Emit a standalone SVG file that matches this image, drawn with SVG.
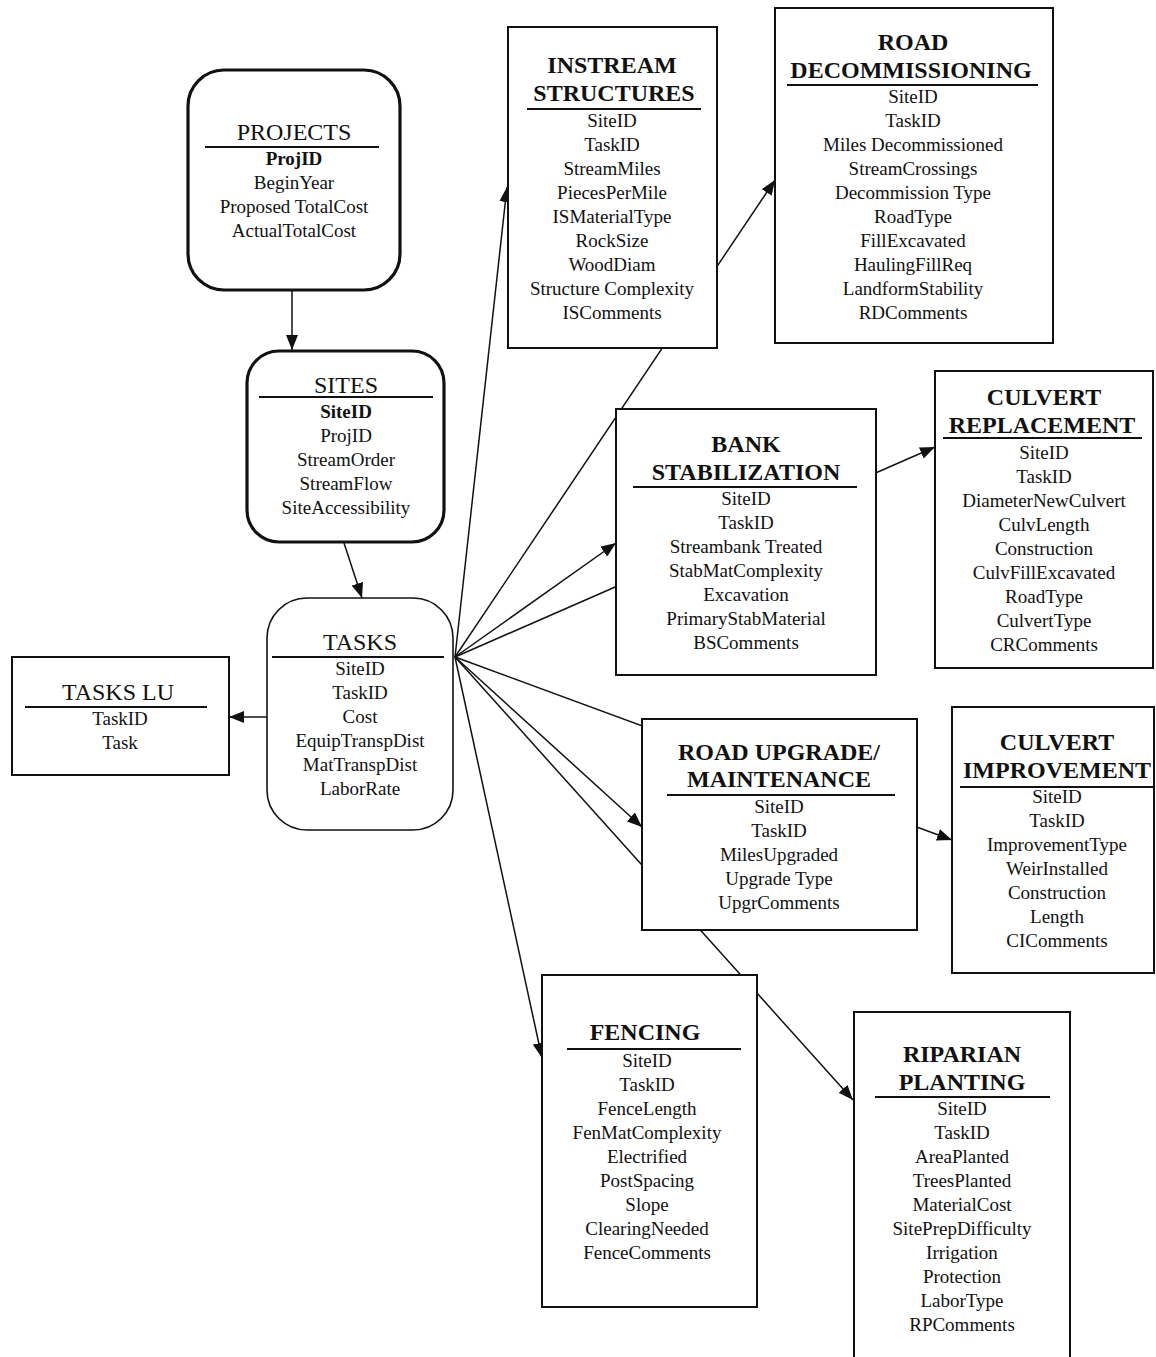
<svg xmlns="http://www.w3.org/2000/svg" width="1156" height="1357" viewBox="0 0 1156 1357">
<style>
.bx{fill:#fff;stroke:#111;stroke-width:2}
.thick{stroke-width:3.2}
.thin{stroke-width:1.6}
.ul{stroke:#111;stroke-width:2}
text{font-family:"Liberation Serif","Times New Roman",serif;fill:#111;text-anchor:middle}
.hn{font-size:24px}
.hb{font-size:24px;font-weight:bold}
.f{font-size:19px}
.fb{font-size:19px;font-weight:bold}
.c{stroke:#111;stroke-width:1.5;fill:none}
.ca{stroke:#111;stroke-width:1.5;fill:none;marker-end:url(#ah)}
</style>
<defs>
<marker id="ah" markerUnits="userSpaceOnUse" markerWidth="16" markerHeight="12" refX="15" refY="6" orient="auto">
<path d="M0,0 L15,6 L0,12 z" fill="#111"/>
</marker>
</defs>
<rect width="1156" height="1357" fill="#fff"/>
<g id="connectors">
<line class="ca" x1="292" y1="290" x2="292" y2="350"/>
<line class="ca" x1="344" y1="543" x2="362" y2="598"/>
<line class="ca" x1="267" y1="717" x2="229" y2="717"/>
<line class="ca" x1="455" y1="657" x2="507" y2="187"/>
<line class="ca" x1="455" y1="657" x2="775" y2="180"/>
<line class="ca" x1="455" y1="657" x2="616" y2="543"/>
<line class="ca" x1="455" y1="657" x2="935" y2="447"/>
<line class="ca" x1="455" y1="657" x2="952" y2="840"/>
<line class="ca" x1="455" y1="657" x2="642" y2="827"/>
<line class="ca" x1="455" y1="657" x2="853" y2="1100"/>
<line class="ca" x1="455" y1="657" x2="542" y2="1058"/>
</g>
<g id="projects">
<rect class="bx thick" x="188" y="70" width="212" height="220" rx="36"/>
<text class="hn" x="294" y="140">PROJECTS</text>
<line class="ul" x1="205" y1="147" x2="379" y2="147"/>
<text class="fb" x="294" y="165">ProjID</text>
<text class="f" x="294" y="189">BeginYear</text>
<text class="f" x="294" y="213">Proposed TotalCost</text>
<text class="f" x="294" y="237">ActualTotalCost</text>
</g>
<g id="sites">
<rect class="bx thick" x="247" y="351" width="197" height="191" rx="32"/>
<text class="hn" x="346" y="393">SITES</text>
<line class="ul" x1="259" y1="397" x2="433" y2="397"/>
<text class="fb" x="346" y="418">SiteID</text>
<text class="f" x="346" y="442">ProjID</text>
<text class="f" x="346" y="466">StreamOrder</text>
<text class="f" x="346" y="490">StreamFlow</text>
<text class="f" x="346" y="514">SiteAccessibility</text>
</g>
<g id="tasks">
<rect class="bx thin" x="267" y="598" width="186" height="232" rx="40"/>
<text class="hn" x="360" y="650">TASKS</text>
<line class="ul" x1="272" y1="657" x2="444" y2="657"/>
<text class="f" x="360" y="675">SiteID</text>
<text class="f" x="360" y="699">TaskID</text>
<text class="f" x="360" y="723">Cost</text>
<text class="f" x="360" y="747">EquipTranspDist</text>
<text class="f" x="360" y="771">MatTranspDist</text>
<text class="f" x="360" y="795">LaborRate</text>
</g>
<g id="tasks-lu">
<rect class="bx" x="12" y="657" width="217" height="118"/>
<text class="hn" x="118" y="700">TASKS LU</text>
<line class="ul" x1="25" y1="707" x2="207" y2="707"/>
<text class="f" x="120" y="725">TaskID</text>
<text class="f" x="120" y="749">Task</text>
</g>
<g id="instream-structures">
<rect class="bx" x="508" y="27" width="209" height="321"/>
<text class="hb" x="612" y="73">INSTREAM</text>
<text class="hb" x="614" y="101">STRUCTURES</text>
<line class="ul" x1="527" y1="109" x2="701" y2="109"/>
<text class="f" x="612" y="127">SiteID</text>
<text class="f" x="612" y="151">TaskID</text>
<text class="f" x="612" y="175">StreamMiles</text>
<text class="f" x="612" y="199">PiecesPerMile</text>
<text class="f" x="612" y="223">ISMaterialType</text>
<text class="f" x="612" y="247">RockSize</text>
<text class="f" x="612" y="271">WoodDiam</text>
<text class="f" x="612" y="295">Structure Complexity</text>
<text class="f" x="612" y="319">ISComments</text>
</g>
<g id="road-decommissioning">
<rect class="bx" x="775" y="8" width="278" height="335"/>
<text class="hb" x="913" y="50">ROAD</text>
<text class="hb" x="911" y="78">DECOMMISSIONING</text>
<line class="ul" x1="787" y1="85" x2="1038" y2="85"/>
<text class="f" x="913" y="103">SiteID</text>
<text class="f" x="913" y="127">TaskID</text>
<text class="f" x="913" y="151">Miles Decommissioned</text>
<text class="f" x="913" y="175">StreamCrossings</text>
<text class="f" x="913" y="199">Decommission Type</text>
<text class="f" x="913" y="223">RoadType</text>
<text class="f" x="913" y="247">FillExcavated</text>
<text class="f" x="913" y="271">HaulingFillReq</text>
<text class="f" x="913" y="295">LandformStability</text>
<text class="f" x="913" y="319">RDComments</text>
</g>
<g id="bank-stabilization">
<rect class="bx" x="616" y="409" width="260" height="266"/>
<text class="hb" x="746" y="452">BANK</text>
<text class="hb" x="746" y="480">STABILIZATION</text>
<line class="ul" x1="633" y1="487" x2="857" y2="487"/>
<text class="f" x="746" y="505">SiteID</text>
<text class="f" x="746" y="529">TaskID</text>
<text class="f" x="746" y="553">Streambank Treated</text>
<text class="f" x="746" y="577">StabMatComplexity</text>
<text class="f" x="746" y="601">Excavation</text>
<text class="f" x="746" y="625">PrimaryStabMaterial</text>
<text class="f" x="746" y="649">BSComments</text>
</g>
<g id="culvert-replacement">
<rect class="bx" x="935" y="371" width="218" height="297"/>
<text class="hb" x="1044" y="405">CULVERT</text>
<text class="hb" x="1042" y="433">REPLACEMENT</text>
<line class="ul" x1="943" y1="438" x2="1142" y2="438"/>
<text class="f" x="1044" y="459">SiteID</text>
<text class="f" x="1044" y="483">TaskID</text>
<text class="f" x="1044" y="507">DiameterNewCulvert</text>
<text class="f" x="1044" y="531">CulvLength</text>
<text class="f" x="1044" y="555">Construction</text>
<text class="f" x="1044" y="579">CulvFillExcavated</text>
<text class="f" x="1044" y="603">RoadType</text>
<text class="f" x="1044" y="627">CulvertType</text>
<text class="f" x="1044" y="651">CRComments</text>
</g>
<g id="road-upgrade-maintenance">
<rect class="bx" x="642" y="719" width="275" height="211"/>
<text class="hb" x="779" y="760">ROAD UPGRADE/</text>
<text class="hb" x="779" y="787">MAINTENANCE</text>
<line class="ul" x1="667" y1="795" x2="895" y2="795"/>
<text class="f" x="779" y="813">SiteID</text>
<text class="f" x="779" y="837">TaskID</text>
<text class="f" x="779" y="861">MilesUpgraded</text>
<text class="f" x="779" y="885">Upgrade Type</text>
<text class="f" x="779" y="909">UpgrComments</text>
</g>
<g id="culvert-improvement">
<rect class="bx" x="952" y="707" width="202" height="266"/>
<text class="hb" x="1057" y="750">CULVERT</text>
<text class="hb" x="1057" y="778">IMPROVEMENT</text>
<line class="ul" x1="960" y1="787" x2="1154" y2="787"/>
<text class="f" x="1057" y="803">SiteID</text>
<text class="f" x="1057" y="827">TaskID</text>
<text class="f" x="1057" y="851">ImprovementType</text>
<text class="f" x="1057" y="875">WeirInstalled</text>
<text class="f" x="1057" y="899">Construction</text>
<text class="f" x="1057" y="923">Length</text>
<text class="f" x="1057" y="947">CIComments</text>
</g>
<g id="fencing">
<rect class="bx" x="542" y="975" width="215" height="332"/>
<text class="hb" x="645" y="1040">FENCING</text>
<line class="ul" x1="567" y1="1049" x2="741" y2="1049"/>
<text class="f" x="647" y="1067">SiteID</text>
<text class="f" x="647" y="1091">TaskID</text>
<text class="f" x="647" y="1115">FenceLength</text>
<text class="f" x="647" y="1139">FenMatComplexity</text>
<text class="f" x="647" y="1163">Electrified</text>
<text class="f" x="647" y="1187">PostSpacing</text>
<text class="f" x="647" y="1211">Slope</text>
<text class="f" x="647" y="1235">ClearingNeeded</text>
<text class="f" x="647" y="1259">FenceComments</text>
</g>
<g id="riparian-planting">
<rect class="bx" x="854" y="1012" width="216" height="360"/>
<text class="hb" x="962" y="1062">RIPARIAN</text>
<text class="hb" x="962" y="1090">PLANTING</text>
<line class="ul" x1="875" y1="1097" x2="1050" y2="1097"/>
<text class="f" x="962" y="1115">SiteID</text>
<text class="f" x="962" y="1139">TaskID</text>
<text class="f" x="962" y="1163">AreaPlanted</text>
<text class="f" x="962" y="1187">TreesPlanted</text>
<text class="f" x="962" y="1211">MaterialCost</text>
<text class="f" x="962" y="1235">SitePrepDifficulty</text>
<text class="f" x="962" y="1259">Irrigation</text>
<text class="f" x="962" y="1283">Protection</text>
<text class="f" x="962" y="1307">LaborType</text>
<text class="f" x="962" y="1331">RPComments</text>
</g>
</svg>
